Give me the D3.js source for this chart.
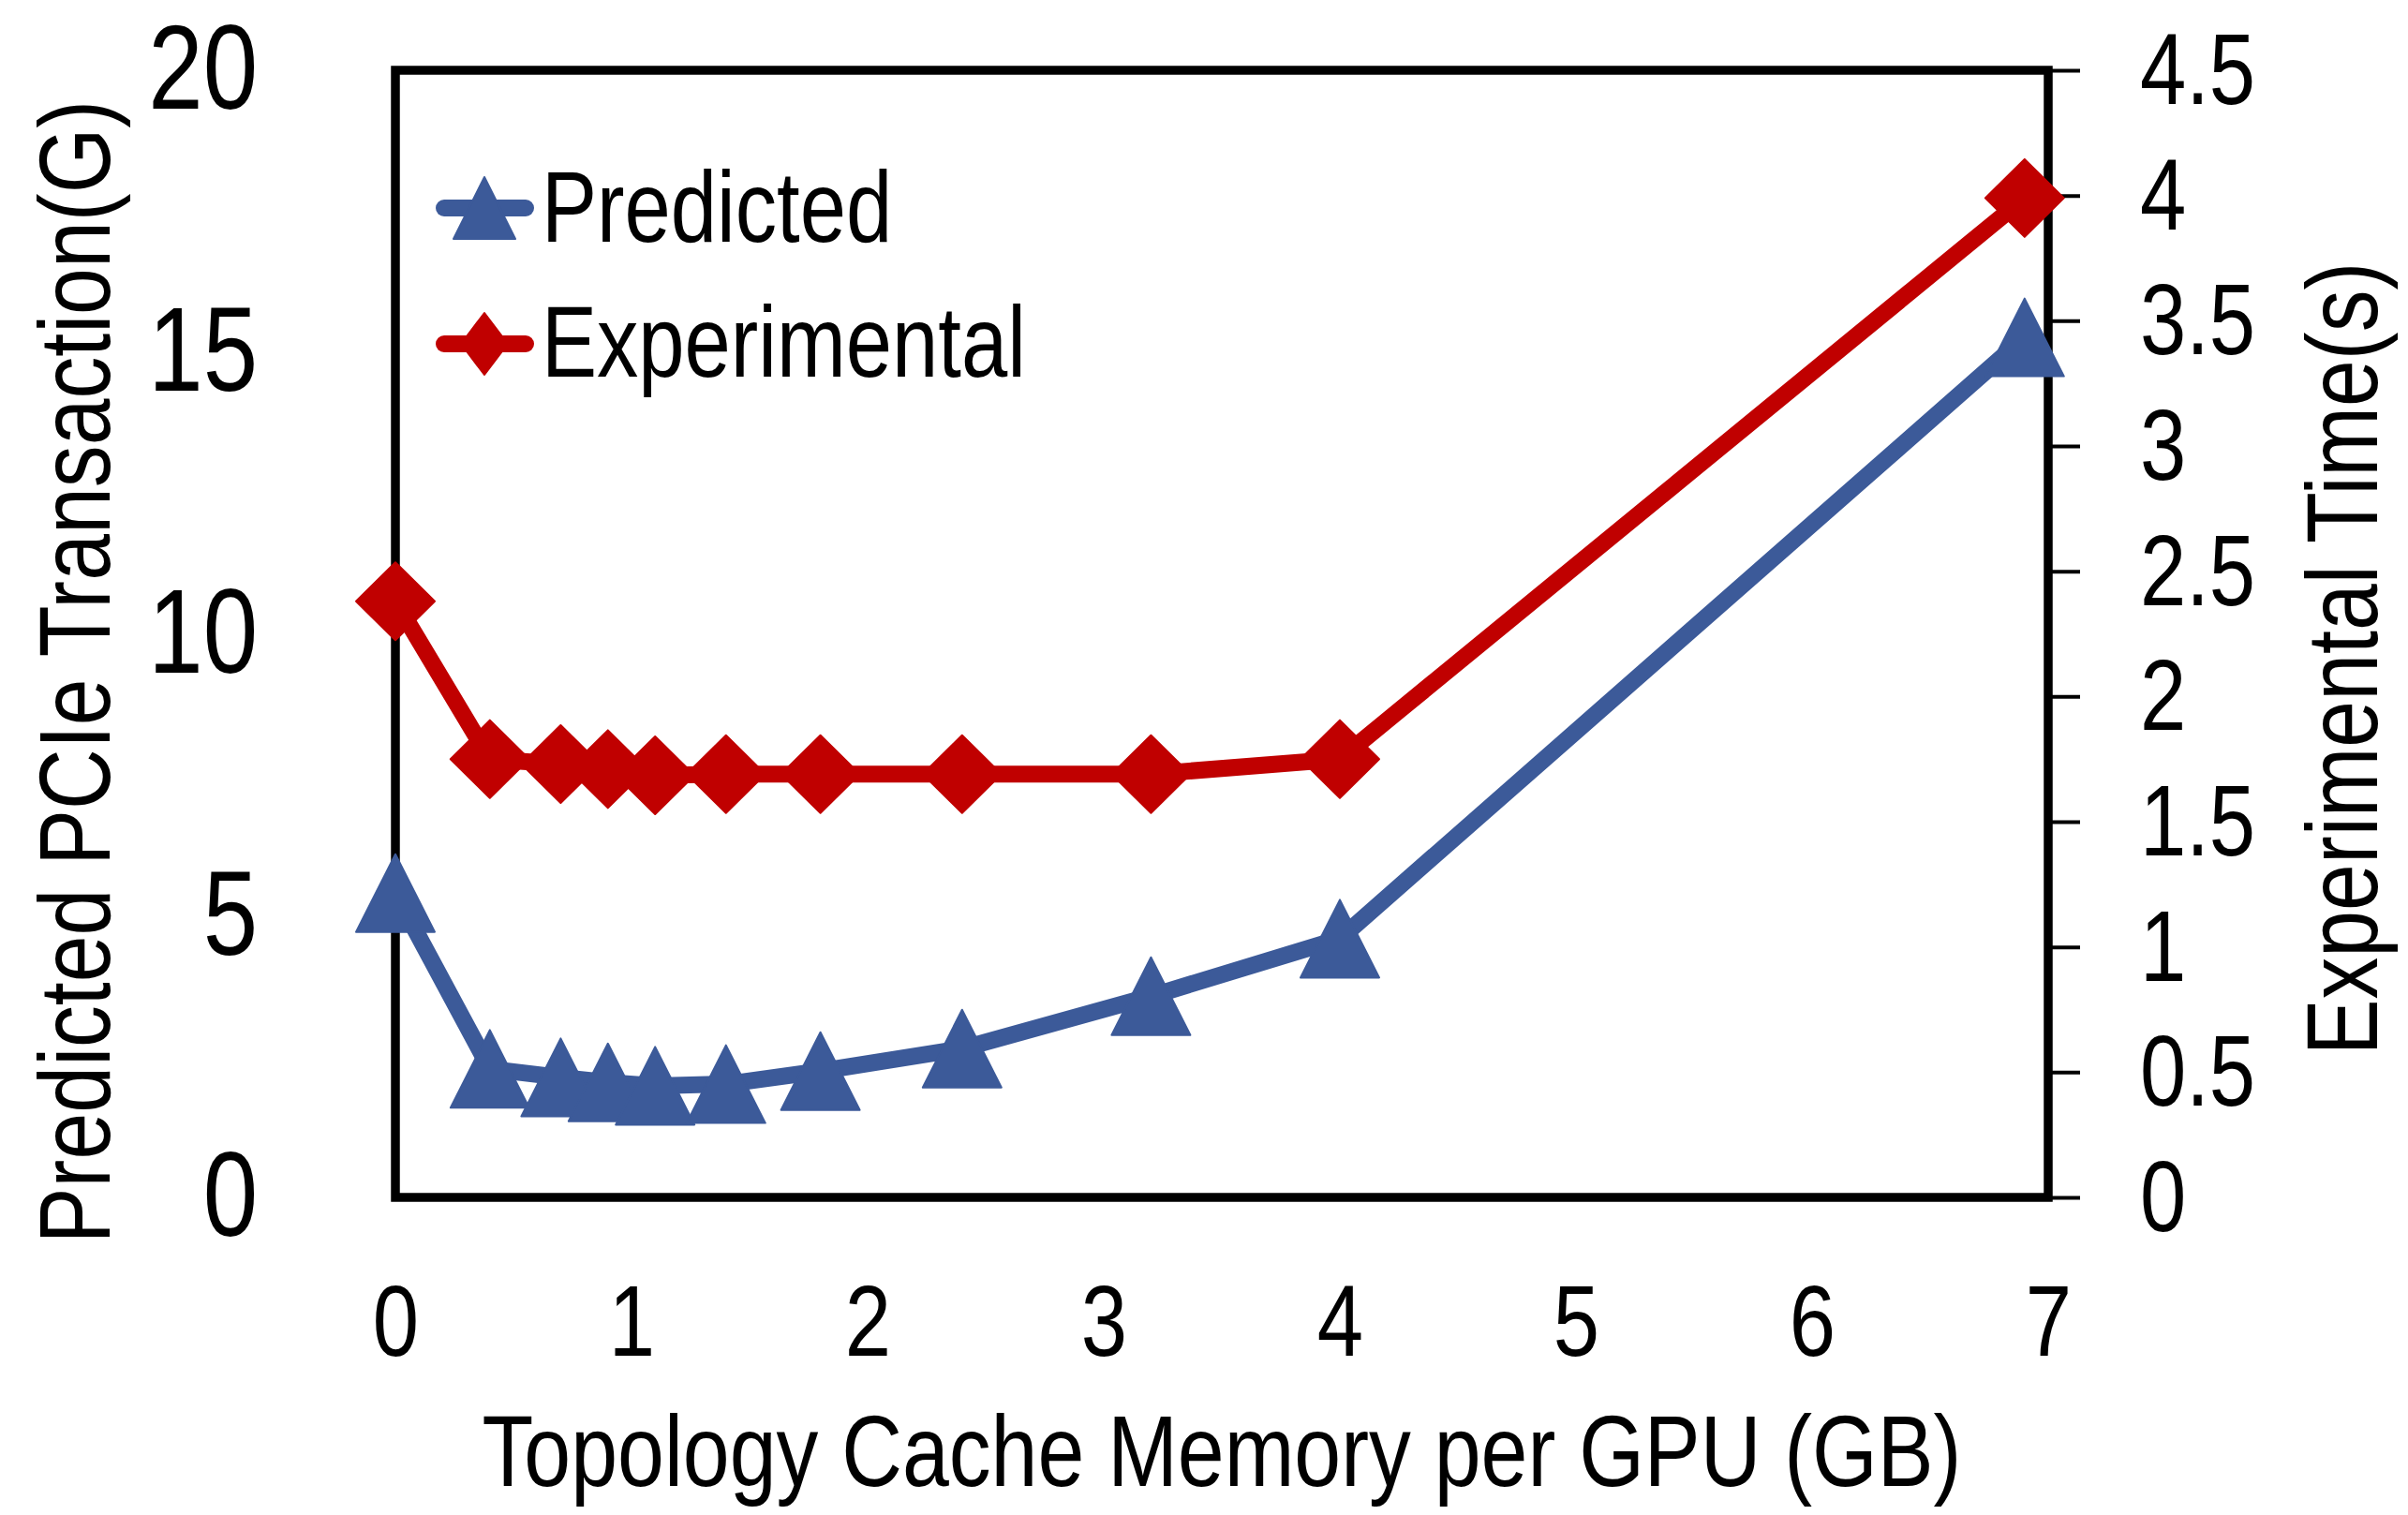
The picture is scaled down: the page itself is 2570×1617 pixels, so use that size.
<!DOCTYPE html>
<html>
<head>
<meta charset="utf-8">
<script src="https://cdn.jsdelivr.net/npm/d3@7"></script>
<style>
  body { margin: 0; background: #fff; }
  text { font-family: "Liberation Sans Narrow", "Arial Narrow", "Liberation Sans", Arial, sans-serif; fill: #000; }
</style>
</head>
<body>
<svg id="chart" width="2570" height="1617"></svg>
<script>
// data
const memory       = [0, 0.4, 0.7, 0.9, 1.1, 1.4, 1.8, 2.4, 3.2, 4, 6.9];
const predicted    = [5.4, 2.28, 2.13, 2.04, 1.98, 2.01, 2.24, 2.64, 3.57, 4.59, 15.26];
const experimental = [2.38, 1.75, 1.73, 1.71, 1.685, 1.69, 1.69, 1.69, 1.69, 1.75, 3.99];

const xTicks      = [0, 1, 2, 3, 4, 5, 6, 7];
const leftTicks   = [0, 5, 10, 15, 20];
const rightTicks  = [0, 0.5, 1, 1.5, 2, 2.5, 3, 3.5, 4, 4.5];
const seriesNames = ["Predicted", "Experimental"];

const blue = "#3c5a99", red = "#c00000";
const box = {left: 422, right: 2186, top: 75, bottom: 1278};

let svg = d3.select("#chart");

// the original font is a narrow grotesque; squeeze the regular one if narrow is missing
function narrow(sel, k) {
  sel.each(function() {
    let w = this.getComputedTextLength();
    d3.select(this).attr("textLength", w * (k || 0.82)).attr("lengthAdjust", "spacingAndGlyphs");
  });
}

let x = d3.scaleLinear().domain([0, 7]).range([box.left, box.right]);
let yL = d3.scaleLinear().domain([0, 20]).range([box.bottom, box.top]);
let yR = d3.scaleLinear().domain([0, 4.5]).range([box.bottom, box.top]);

// frame
svg.append("rect")
  .attr("x", box.left).attr("y", box.top)
  .attr("width", box.right - box.left).attr("height", box.bottom - box.top)
  .attr("fill", "none").attr("stroke", "#000").attr("stroke-width", 9.5);

// right axis: outward ticks, labels left aligned
let rAxis = d3.axisRight(yR).tickValues(rightTicks).tickSize(34).tickPadding(64)
  .tickFormat(d3.format("~g"));
let gR = svg.append("g").attr("transform", `translate(${box.right},0)`).call(rAxis);
gR.select(".domain").remove();
gR.selectAll(".tick line").attr("stroke", "#000").attr("stroke-width", 4);
gR.selectAll(".tick text").attr("font-size", 108).attr("dy", "0.33em")
  .attr("font-family", null).attr("fill", "#000");

// left axis: labels only
let lAxis = d3.axisLeft(yL).tickValues(leftTicks).tickSize(0).tickPadding(147);
let gL = svg.append("g").attr("transform", `translate(${box.left},0)`).call(lAxis);
gL.select(".domain").remove();
gL.selectAll(".tick text").attr("font-size", 128).attr("dy", "0.32em")
  .attr("font-family", null).attr("fill", "#000");

// bottom axis: labels only
let xAxis = d3.axisBottom(x).tickValues(xTicks).tickSize(0).tickPadding(0)
  .tickFormat(d3.format("~g"));
let gX = svg.append("g").attr("transform", `translate(0,${box.bottom})`).call(xAxis);
gX.select(".domain").remove();
gX.selectAll(".tick text").attr("font-size", 108).attr("dy", null).attr("y", 169)
  .attr("font-family", null).attr("fill", "#000");

// axis titles
svg.append("text").attr("class", "title").attr("x", (box.left + box.right) / 2).attr("y", 1586)
  .attr("text-anchor", "middle").attr("font-size", 108)
  .text("Topology Cache Memory per GPU (GB)");

svg.append("text").attr("class", "title").attr("transform", "translate(117,717) rotate(-90)")
  .attr("text-anchor", "middle").attr("font-size", 108)
  .text("Predicted PCIe Transaction(G)");

svg.append("text").attr("class", "title").attr("transform", "translate(2537,703) rotate(-90)")
  .attr("text-anchor", "middle").attr("font-size", 108)
  .text("Experimental Time(s)");

// marker shapes, centred on their bounding box
function triangle(w, h) {
  return `M0,${-h/2}L${w/2},${h/2}L${-w/2},${h/2}Z`;
}
function diamond(w, h) {
  return `M0,${-h/2}L${w/2},0L0,${h/2}L${-w/2},0Z`;
}

function drawSeries(values, yScale, color, shape) {
  let pts = memory.map((m, i) => [x(m), yScale(values[i])]);
  svg.append("path")
    .attr("d", d3.line()(pts))
    .attr("fill", "none").attr("stroke", color)
    .attr("stroke-width", 18).attr("stroke-linejoin", "round");
  svg.append("g").selectAll("path")
    .data(pts).enter().append("path")
    .attr("transform", d => `translate(${d[0]},${d[1]})`)
    .attr("d", shape)
    .attr("fill", color).attr("stroke", color)
    .attr("stroke-width", 2).attr("stroke-linejoin", "round");
}

drawSeries(predicted, yL, blue, triangle(84, 83));
drawSeries(experimental, yR, red, diamond(84, 83));

// legend
let legend = svg.append("g");
let legendRows = [
  {name: seriesNames[0], color: blue, shape: triangle(66, 66), y: 222, base: 258},
  {name: seriesNames[1], color: red, shape: diamond(50, 66), y: 367, base: 402}
];
legendRows.forEach(function(r) {
  legend.append("line")
    .attr("x1", 474).attr("x2", 561).attr("y1", r.y).attr("y2", r.y)
    .attr("stroke", r.color).attr("stroke-width", 18).attr("stroke-linecap", "round");
  legend.append("path")
    .attr("transform", `translate(517,${r.y})`).attr("d", r.shape)
    .attr("fill", r.color).attr("stroke", r.color).attr("stroke-width", 2)
    .attr("stroke-linejoin", "round");
  legend.append("text").attr("x", 578).attr("y", r.base)
    .attr("font-size", 108).text(r.name);
});

// only squeeze when the narrow face did not load
let probe = svg.append("text").attr("font-size", 100).text("Predicted");
let needSqueeze = probe.node().getComputedTextLength() > 380;
probe.remove();
if (needSqueeze) {
  narrow(svg.selectAll("text"), 0.82);
  narrow(svg.selectAll("text.title"), 1.012);
}
</script>
</body>
</html>
